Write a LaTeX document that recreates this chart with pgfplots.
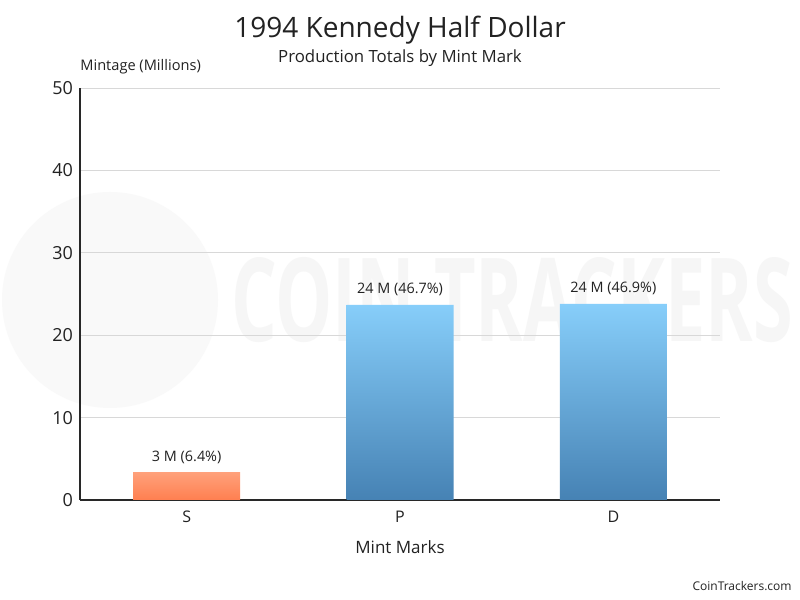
\documentclass[border=0pt]{standalone}
\usepackage{pgfplots}
\pgfplotsset{compat=1.18}
\usepackage{fontspec}
\setmainfont{Open Sans}
\definecolor{gridc}{RGB}{216,216,216}
\definecolor{axc}{RGB}{40,40,40}
\definecolor{txt}{RGB}{34,34,34}
\begin{document}
\begin{tikzpicture}
\path[fill=white] (0pt,0pt) rectangle (400pt,300pt);
% faint watermark
\fill[gray!5] (55pt,150pt) circle (54pt);
\node[anchor=center, text=gray!7, font=\fontsize{40}{40}\selectfont\bfseries, xscale=0.9, yscale=1.45] at (256pt,150pt) {COIN TRACKERS};
\begin{axis}[
  at={(40pt,50pt)}, anchor=south west,
  scale only axis, width=320pt, height=206pt,
  xmin=-0.5, xmax=2.5, ymin=0, ymax=50,
  xtick={0,1,2}, xticklabels={S,P,D},
  ytick={0,10,20,30,40,50},
  /pgf/number format/assume math mode=true,
  axis x line*=bottom, axis y line*=left,
  axis line style={axc, line width=0.6pt},
  x axis line style={-}, y axis line style={-},
  major tick length=0pt,
  ymajorgrids, grid style={gridc, line width=0.5pt},
  tick label style={txt},
  yticklabel style={font=\fontsize{9}{9}\selectfont, xshift=0pt},
  xticklabel style={font=\fontsize{8}{8}\selectfont, yshift=-2pt},
  xlabel={Mint Marks},
  xlabel style={font=\fontsize{8.5}{8.5}\selectfont, text=txt, yshift=-2pt},
  ybar, bar width=53.5pt, bar shift=0pt,
  nodes near coords,
  point meta=explicit symbolic,
  every node near coord/.append style={font=\fontsize{7.2}{7.2}\selectfont, text=txt, yshift=1pt},
  clip=false,
]
\addplot[draw=none, top color={rgb,255:red,255;green,160;blue,122}, bottom color={rgb,255:red,255;green,127;blue,80}]
  coordinates {(0,3.28) [3 M (6.4\%)]};
\addplot[draw=none, top color={rgb,255:red,135;green,206;blue,250}, bottom color={rgb,255:red,70;green,130;blue,180}]
  coordinates {(1,23.67) [24 M (46.7\%)] (2,23.80) [24 M (46.9\%)]};
\end{axis}
\node[font=\fontsize{14}{14}\selectfont, text=txt] at (200pt,285pt) {1994 Kennedy Half Dollar};
\node[font=\fontsize{8.4}{8.4}\selectfont, text=txt] at (200pt,271pt) {Production Totals by Mint Mark};
\node[font=\fontsize{7.3}{7.3}\selectfont, text=txt, anchor=west, inner sep=0pt] at (40pt,266.5pt) {Mintage (Millions)};
\node[font=\fontsize{6}{6}\selectfont, text=txt, anchor=east, inner sep=0pt] at (396pt,7pt) {CoinTrackers.com};
\end{tikzpicture}
\end{document}
